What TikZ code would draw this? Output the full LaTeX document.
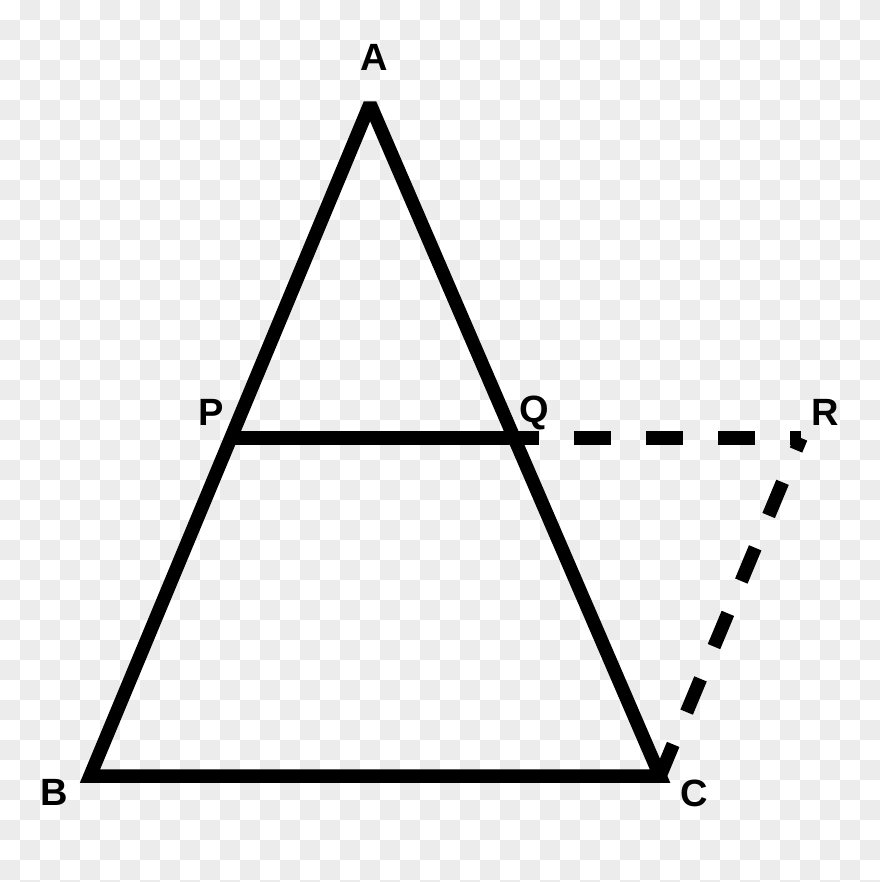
\documentclass[tikz,border=0pt]{standalone}
\usepackage{fontspec}
\setmainfont{Liberation Sans}
\definecolor{bgg}{RGB}{236,236,236}
\tikzset{
  solidline/.style={line width=13.5pt, line join=miter, miter limit=2, line cap=butt},
  dashline/.style={line width=13.5pt, line cap=butt},
  lbl/.style={anchor=base, inner sep=0pt, font=\fontsize{38}{38}\selectfont\bfseries}
}
\begin{document}
\begin{tikzpicture}[x=1pt,y=-1pt]
\useasboundingbox (0,0) rectangle (880,882);
\fill[white] (0,0) rectangle (880,882);
\begin{scope}
\clip (0,0) rectangle (880,882);
\foreach \j in {0,...,44}{
  \foreach \k in {0,...,21}{
    \fill[bgg] ({(2*\k+mod(\j+1,2))*20},{\j*20}) rectangle +(20,20);
  }
}
\end{scope}
\coordinate (A) at (370,104);
\coordinate (B) at (90,776);
\coordinate (C) at (660,776);
\coordinate (P) at (231,438);
\coordinate (Q) at (514,438);
\coordinate (R) at (801,438);
\draw[solidline] (A) -- (B) -- (C) -- cycle;
\draw[solidline] (P) -- (Q);
\draw[dashline, dash pattern=on 37pt off 35pt, dash phase=12pt] (Q) -- (R);
\draw[dashline, dash pattern=on 36pt off 35pt, dash phase=23pt] (R) -- (C);
\node[lbl] (lA) at (374,71) {A};
\node[lbl] (lB) at (54,805) {B};
\node[lbl] (lC) at (694,806) {C};
\node[lbl] (lP) at (211,425) {P};
\node[lbl] (lQ) at (534,422) {Q};
\node[lbl] (lR) at (825,425) {R};
\end{tikzpicture}
\end{document}
